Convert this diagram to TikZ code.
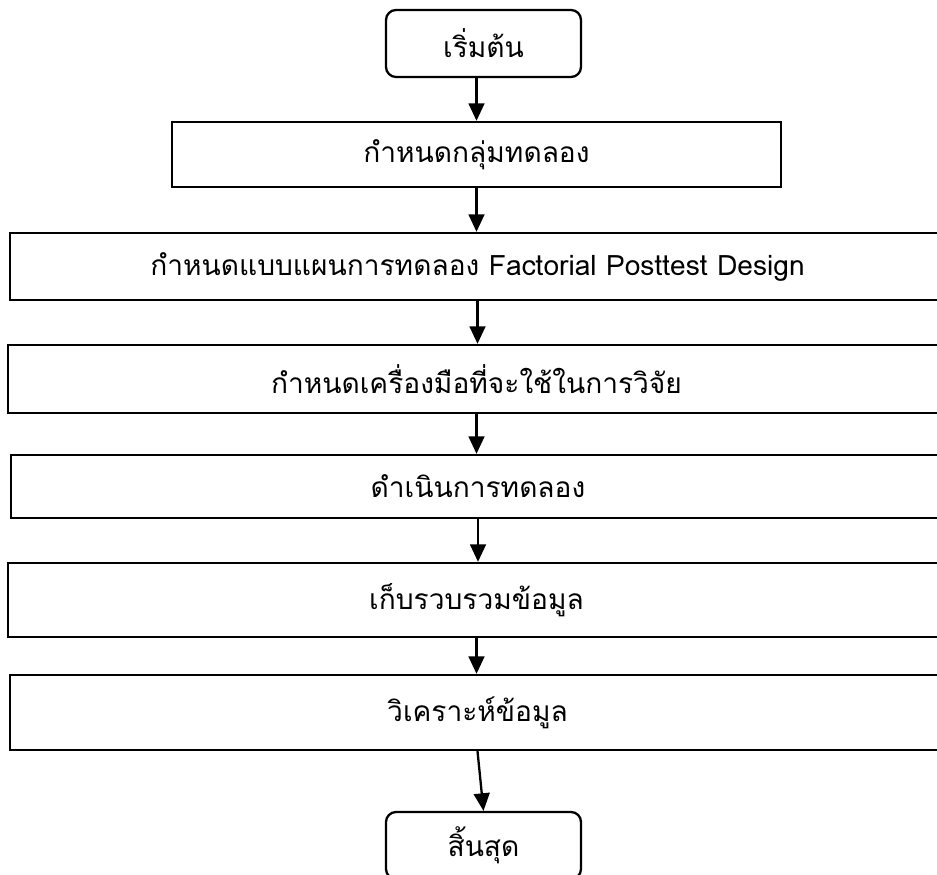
\documentclass[tikz,border=0pt]{standalone}
\usepackage{fontspec}
\newfontfamily\thaifont[Script=Thai]{Loma}
\usepackage{tikz}
\usetikzlibrary{arrows.meta}
\tikzset{
    every node/.style={font=\thaifont\fontsize{16}{19}\selectfont},
    terminal/.style={draw, rectangle, rounded corners=0.2cm, line width=1.3pt, minimum width=3.9cm, minimum height=1.34cm},
    process/.style={draw, rectangle, line width=1.3pt},
    flow/.style={-{Triangle[width=9pt,length=10pt]}, line width=1.3pt}
}

\begin{document}
\begin{tikzpicture}
            \useasboundingbox (0,0) rectangle (18.74,-17.5);
            \node[terminal] (start) at (9.67,-0.87) {เริ่มต้น};
            \node[process, minimum width=12.18cm, minimum height=1.30cm] (group) at (9.53,-3.09) {กำหนดกลุ่มทดลอง};
            \node[process, minimum width=18.7cm, minimum height=1.34cm] (design) at (9.55,-5.33) {กำหนดแบบแผนการทดลอง Factorial Posttest Design};
            \node[process, minimum width=18.74cm, minimum height=1.36cm] (tool) at (9.53,-7.58) {กำหนดเครื่องมือที่จะใช้ในการวิจัย};
            \node[process, minimum width=18.68cm, minimum height=1.26cm] (run) at (9.56,-9.73) {ดำเนินการทดลอง};
            \node[process, minimum width=18.74cm, minimum height=1.48cm] (collect) at (9.53,-12.0) {เก็บรวบรวมข้อมูล};
            \node[process, minimum width=18.7cm, minimum height=1.5cm] (analyse) at (9.55,-14.25) {วิเคราะห์ข้อมูล};
            \node[terminal] (stop) at (9.67,-16.91) {สิ้นสุด};
            
            \draw[flow] (start.south -| group.north) -- (group.north);
            \draw[flow] (group.south) -- (group.south |- design.north);
            \draw[flow] (design.south) -- (design.south |- tool.north);
            \draw[flow] (tool.south) -- (tool.south |- run.north);
            \draw[flow] (run.south) -- (run.south |- collect.north);
            \draw[flow] (collect.south) -- (collect.south |- analyse.north);
            \draw[flow] (analyse.south) -- (stop.north);
        \end{tikzpicture}
\end{document}
